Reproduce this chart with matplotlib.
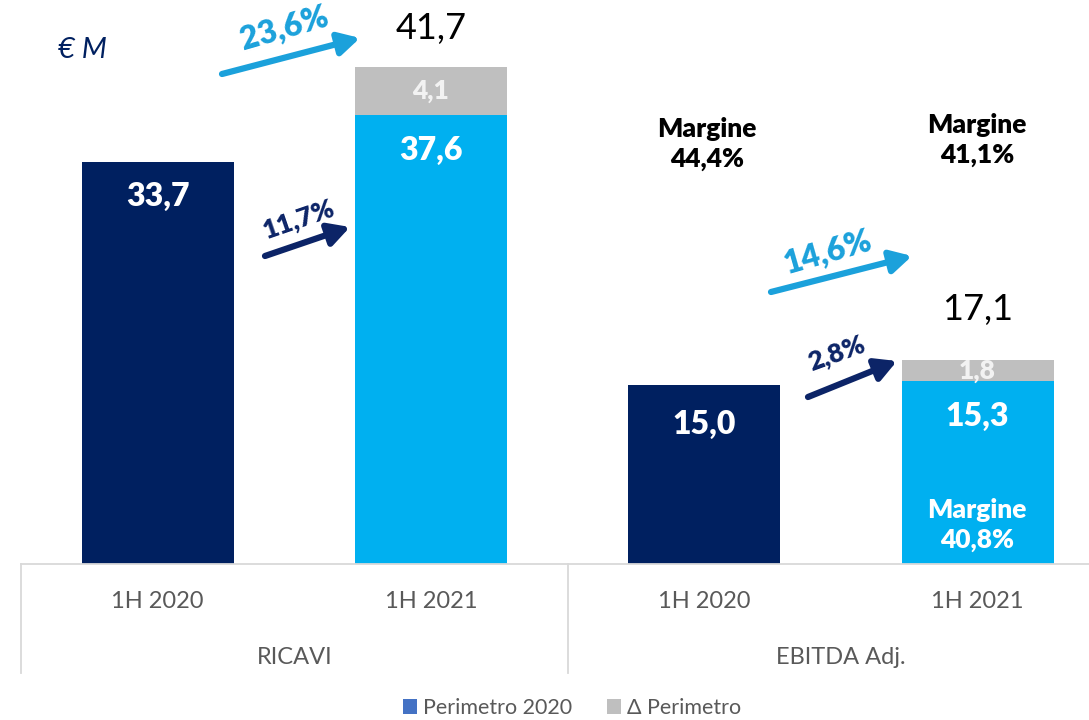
import matplotlib
matplotlib.use('Agg')
import matplotlib.pyplot as plt
from matplotlib.patches import Patch
from matplotlib.transforms import blended_transform_factory
from matplotlib import font_manager

# ---------------- data ----------------
categories = ['1H 2020', '1H 2021', '1H 2020', '1H 2021']
groups = ['RICAVI', 'EBITDA Adj.']
perimetro_2020 = [33.7, 37.6, 15.0, 15.3]
delta_perimetro = [0.0, 4.1, 0.0, 1.8]
base_labels = ['33,7', '37,6', '15,0', '15,3']
delta_labels = ['', '4,1', '', '1,8']
total_labels = ['', '41,7', '', '17,1']
growth_total = ['23,6%', '14,6%']
growth_organic = ['11,7%', '2,8%']
margin_labels = ['44,4%', '41,1%', '40,8%']
unit_label = '€ M'
legend_labels = ['Perimetro 2020', 'Δ Perimetro']

# ---------------- style ----------------
NAVY = '#002060'
LIGHT = '#00B0F0'
GRAY = '#BFBFBF'
LEG_BLUE = '#4472C4'
ARROW_LIGHT = '#1BA1DB'
ARROW_NAVY = '#0C2467'
TXT_GRAY = '#595959'
bar_colors = [NAVY, LIGHT, NAVY, LIGHT]

plt.rcParams['font.family'] = ['Lato', 'DejaVu Sans']
BOLD = 'heavy'

W, H = 1089, 720
PX_X = 273.3      # pixels per category
PX_Y = 11.93      # pixels per unit
BASE = 564        # baseline pixel row
LEFT = 21

fig = plt.figure(figsize=(W / 100, H / 100), dpi=100)
ax = fig.add_axes([LEFT / W, (H - BASE) / H, (W - LEFT) / W, BASE / H])
ax.set_xlim(-0.5, -0.5 + (W - LEFT) / PX_X)
ax.set_ylim(0, BASE / PX_Y)
ax.set_xticks([])
ax.set_yticks([])
for s in ['top', 'right', 'left']:
    ax.spines[s].set_visible(False)
ax.spines['bottom'].set_color('#D9D9D9')
ax.spines['bottom'].set_linewidth(1.3)


def P(xp, yp):
    """pixel position -> data coordinates (for annotations)"""
    return (-0.5 + (xp - LEFT) / PX_X, (BASE - yp) / PX_Y)


x = list(range(len(categories)))
bw = 152 / PX_X
ax.bar(x, perimetro_2020, width=bw, color=bar_colors, linewidth=0)
ax.bar(x, delta_perimetro, width=bw, bottom=perimetro_2020, color=GRAY, linewidth=0)

# value labels
for i in x:
    top_base = perimetro_2020[i]
    off = -39 if i == 2 else -35
    ax.annotate(base_labels[i], (i, top_base), xytext=(0, off * 0.72),
                textcoords='offset points', ha='center', va='center',
                color='white', fontsize=23, fontweight=BOLD)
    if delta_labels[i]:
        ax.text(i, top_base + delta_perimetro[i] / 2, delta_labels[i],
                ha='center', va='center', color='#F2F2F2', fontsize=19,
                fontweight=BOLD)
    if total_labels[i]:
        tot = perimetro_2020[i] + delta_perimetro[i]
        ax.annotate(total_labels[i], (i, tot), xytext=(0, 38 * 0.72 if i == 1 else 50 * 0.72),
                    textcoords='offset points', ha='center', va='center',
                    color='black', fontsize=26)

# growth arrows
def arrow(tail, tip, color):
    ax.annotate('', xy=P(*tip), xytext=P(*tail),
                arrowprops=dict(arrowstyle='-|>,head_length=0.7,head_width=0.38',
                                lw=4.5, color=color, shrinkA=0, shrinkB=0,
                                mutation_scale=18), annotation_clip=False)

arrow((222, 74), (360, 38), ARROW_LIGHT)
ax.text(*P(284, 29), growth_total[0], rotation=16, ha='center', va='center',
        color=ARROW_LIGHT, fontsize=23, fontweight=BOLD)
arrow((265, 256), (350, 227), ARROW_NAVY)
ax.text(*P(299, 220), growth_organic[0], rotation=19, ha='center', va='center',
        color=ARROW_NAVY, fontsize=19, fontweight=BOLD)
arrow((771, 292), (912, 256), ARROW_LIGHT)
ax.text(*P(828, 253), growth_total[1], rotation=16, ha='center', va='center',
        color=ARROW_LIGHT, fontsize=23, fontweight=BOLD)
arrow((808, 397), (897, 361), ARROW_NAVY)
ax.text(*P(837, 354), growth_organic[1], rotation=20, ha='center', va='center',
        color=ARROW_NAVY, fontsize=19, fontweight=BOLD)

# margins
ax.text(*P(707, 144), 'Margine\n' + margin_labels[0], ha='center', va='center',
        color='black', fontsize=19, fontweight=BOLD, linespacing=1.25)
ax.text(*P(977, 140), 'Margine\n' + margin_labels[1], ha='center', va='center',
        color='black', fontsize=19, fontweight=BOLD, linespacing=1.25)
ax.text(*P(977, 525), 'Margine\n' + margin_labels[2], ha='center', va='center',
        color='white', fontsize=19, fontweight=BOLD, linespacing=1.25)

# unit
ax.text(*P(82, 50), unit_label, ha='center', va='center', color=NAVY,
        fontsize=21, style='italic')

# category axis (multi-level)
tr = blended_transform_factory(ax.transData, ax.transAxes)
for i, c in enumerate(categories):
    ax.text(i, (BASE - 602) / BASE, c, transform=tr, ha='center', va='center',
            color=TXT_GRAY, fontsize=17)
for g, name in enumerate(groups):
    ax.text(2 * g + 0.5, (BASE - 658) / BASE, name, transform=tr, ha='center',
            va='center', color=TXT_GRAY, fontsize=17)
for xs in [-0.5, 1.5, 3.5]:
    ax.plot([xs, xs], [0, (BASE - 673) / BASE], transform=tr, color='#D9D9D9',
            lw=1.3, clip_on=False)

# legend
handles = [Patch(facecolor=LEG_BLUE, edgecolor='none'),
           Patch(facecolor=GRAY, edgecolor='none')]
fig.legend(handles, legend_labels, loc='center', bbox_to_anchor=(572 / W, 12 / H),
           ncol=2, frameon=False, fontsize=15.5, labelcolor=TXT_GRAY,
           handlelength=0.65, handleheight=0.65, handletextpad=0.3, columnspacing=1.6)

fig.savefig('out.png', dpi=100)
